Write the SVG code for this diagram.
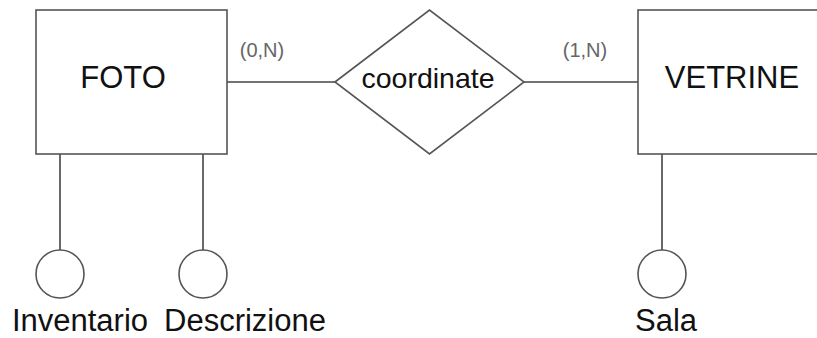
<svg xmlns="http://www.w3.org/2000/svg" width="817" height="338" viewBox="0 0 817 338">
<style>
.sh{fill:#fff;stroke:#555;stroke-width:1.6}
.ln{stroke:#444;stroke-width:1.6;fill:none}
.t{font-family:"Liberation Sans",Arial,sans-serif;fill:#111;font-size:31px}
.c{font-family:"Liberation Sans",Arial,sans-serif;fill:#666;font-size:20px}
</style>
<rect width="817" height="338" fill="#fff"/>
<g id="connectors">
<line class="ln" x1="227" y1="82" x2="335" y2="82"/>
<line class="ln" x1="524" y1="82" x2="638" y2="82"/>
<line class="ln" x1="60" y1="154" x2="60" y2="250"/>
<line class="ln" x1="203" y1="154" x2="203" y2="250"/>
<line class="ln" x1="662" y1="154" x2="662" y2="250"/>
<text class="c" x="262" y="57" text-anchor="middle">(0,N)</text>
<text class="c" x="585" y="57" text-anchor="middle">(1,N)</text>
</g>
<g id="foto">
<rect class="sh" x="36" y="10" width="191" height="144"/>
<text class="t" x="123" y="88" text-anchor="middle">FOTO</text>
</g>
<g id="coordinate">
<polygon class="sh" points="335,82 429.5,10 524,82 429.5,154"/>
<text class="t" x="428" y="88" text-anchor="middle" style="font-size:28.5px">coordinate</text>
</g>
<g id="vetrine">
<rect class="sh" x="638" y="10" width="200" height="144"/>
<text class="t" x="732" y="88" text-anchor="middle">VETRINE</text>
</g>
<g id="inventario">
<circle class="sh" cx="60" cy="274" r="24"/>
<text class="t" x="80" y="331" text-anchor="middle">Inventario</text>
</g>
<g id="descrizione">
<circle class="sh" cx="203" cy="274" r="24"/>
<text class="t" x="245" y="331" text-anchor="middle">Descrizione</text>
</g>
<g id="sala">
<circle class="sh" cx="662" cy="274" r="24"/>
<text class="t" x="666" y="331" text-anchor="middle">Sala</text>
</g>
</svg>
